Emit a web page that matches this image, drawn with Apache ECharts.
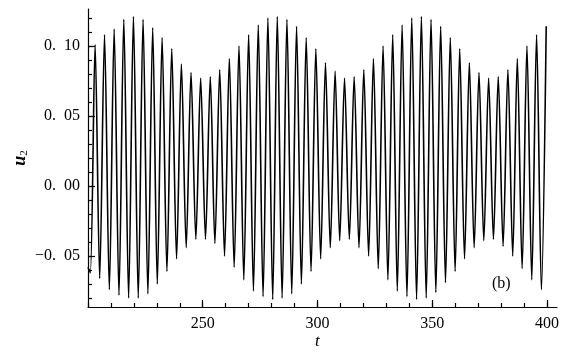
<!DOCTYPE html>
<html><head><meta charset="utf-8">
<script src="https://cdn.jsdelivr.net/npm/echarts@6/dist/echarts.min.js"></script>
<style>html,body{margin:0;padding:0;background:#fff}#c{width:574px;height:356px}</style>
</head><body><div id="c"></div>
<script>
// start point
const startT = [200.0];
const startU = [-0.058];
// local maxima of u2 (times, values)
const peakT = [203.1,207.2,211.4,215.6,219.8,224.0,228.2,232.3,236.5,240.7,244.9,249.1,253.3,257.4,261.6,265.8,
  270.0,274.2,278.4,282.5,286.7,290.9,295.1,299.3,303.5,307.7,311.8,316.0,320.2,324.4,328.6,332.8,
  336.9,341.1,345.3,349.5,353.7,357.9,362.0,366.2,370.4,374.6,378.8,383.0,387.1,391.3,395.5,399.7];
const peakU = [0.101,0.108,0.112,0.119,0.121,0.119,0.113,0.106,0.098,0.087,0.081,0.077,0.078,0.083,0.091,0.100,
  0.108,0.115,0.120,0.121,0.119,0.114,0.106,0.098,0.088,0.082,0.077,0.078,0.083,0.091,0.100,0.108,
  0.115,0.120,0.121,0.119,0.114,0.106,0.098,0.088,0.081,0.077,0.078,0.083,0.091,0.100,0.108,0.114];
// local minima
const troughT = [201.0,205.1,209.3,213.5,217.7,221.9,226.1,230.2,234.4,238.6,242.8,247.0,251.2,255.3,259.5,263.7,267.9,
  272.1,276.3,280.5,284.6,288.8,293.0,297.2,301.4,305.6,309.7,313.9,318.1,322.3,326.5,330.7,334.8,
  339.0,343.2,347.4,351.6,355.8,360.0,364.1,368.3,372.5,376.7,380.9,385.1,389.2,393.4,397.6];
const troughU = [-0.062,-0.066,-0.074,-0.078,-0.080,-0.080,-0.077,-0.070,-0.061,-0.052,-0.044,-0.038,-0.038,-0.041,-0.050,-0.058,-0.067,
  -0.075,-0.079,-0.081,-0.080,-0.077,-0.070,-0.061,-0.052,-0.044,-0.039,-0.038,-0.044,-0.050,-0.059,-0.067,-0.075,-0.079,
  -0.081,-0.080,-0.076,-0.069,-0.061,-0.052,-0.044,-0.039,-0.038,-0.043,-0.050,-0.059,-0.067,-0.074];
// axes
const xMin = 200, xMax = 404.4, yMin = -0.0864, yMax = 0.1264;
const xTickMin = 200, xTickMax = 400, xTickStep = 10;
const xLabelMin = 250, xLabelMax = 400, xLabelStep = 50;
const yTickMin = -0.08, yTickMax = 0.12, yTickStep = 0.01;
const yLabelMin = -0.05, yLabelMax = 0.10, yLabelStep = 0.05;

let pts = [];
startT.forEach((t,i)=>pts.push([t,startU[i]]));
peakT.forEach((t,i)=>pts.push([t,peakU[i]]));
troughT.forEach((t,i)=>pts.push([t,troughU[i]]));
pts.sort((a,b)=>a[0]-b[0]);

const W = 574, H = 356;
const G = {left: 88, right: 17, top: 9, bottom: 49};
const gw = W - G.left - G.right, gh = H - G.top - G.bottom;
const px = v => G.left + (v - xMin) / (xMax - xMin) * gw;
const py = v => G.top + (yMax - v) / (yMax - yMin) * gh;

const FONT = '"Liberation Serif","DejaVu Serif",serif';
const hiddenX = {type:'value', show:false};
const hiddenY = {type:'value', show:false};
function fmtY(v){
  const s = Math.abs(v).toFixed(2).replace('.', '.\u2002');
  return (v < -1e-9 ? '\u2212' : '') + s;
}
const gridBase = {outerBoundsMode:'none', containLabel:false};

const chart = echarts.init(document.getElementById('c'), null, {renderer:'canvas'});
chart.setOption({
  animation:false,
  backgroundColor:'#fff',
  grid:[
    Object.assign({left:G.left, right:G.right, top:G.top, bottom:G.bottom}, gridBase),
    Object.assign({left:G.left, width:px(xTickMax)-G.left, top:G.top, bottom:G.bottom}, gridBase),
    Object.assign({left:px(xLabelMin), width:px(xLabelMax)-px(xLabelMin), top:G.top, bottom:G.bottom}, gridBase),
    Object.assign({left:G.left, right:G.right, top:py(yTickMax), height:py(yTickMin)-py(yTickMax)}, gridBase),
    Object.assign({left:G.left, right:G.right, top:py(yLabelMax), height:py(yLabelMin)-py(yLabelMax)}, gridBase)
  ],
  xAxis:[
    {gridIndex:0, type:'value', min:xMin, max:xMax, axisLine:{onZero:false, lineStyle:{color:'#000', width:1.2}},
      axisTick:{show:false}, axisLabel:{show:false}, splitLine:{show:false}},
    {gridIndex:1, type:'value', min:xTickMin, max:xTickMax, interval:xTickStep,
      axisLine:{show:false, onZero:false}, axisTick:{inside:true, length:4, lineStyle:{color:'#000', width:1.2}},
      axisLabel:{show:false}, splitLine:{show:false}},
    {gridIndex:2, type:'value', min:xLabelMin, max:xLabelMax, interval:xLabelStep,
      axisLine:{show:false, onZero:false}, axisTick:{inside:true, length:7, lineStyle:{color:'#000', width:1.2}},
      axisLabel:{margin:9, fontFamily:FONT, fontSize:16, color:'#000'}, splitLine:{show:false}},
    Object.assign({gridIndex:3}, hiddenX),
    Object.assign({gridIndex:4}, hiddenX)
  ],
  yAxis:[
    {gridIndex:0, type:'value', min:yMin, max:yMax, axisLine:{onZero:false, lineStyle:{color:'#000', width:1.2}},
      axisTick:{show:false}, axisLabel:{show:false}, splitLine:{show:false}},
    Object.assign({gridIndex:1}, hiddenY),
    Object.assign({gridIndex:2}, hiddenY),
    {gridIndex:3, type:'value', min:yTickMin, max:yTickMax, interval:yTickStep,
      axisLine:{show:false, onZero:false}, axisTick:{inside:true, length:4, lineStyle:{color:'#000', width:1.2}},
      axisLabel:{show:false}, splitLine:{show:false}},
    {gridIndex:4, type:'value', min:yLabelMin, max:yLabelMax, interval:yLabelStep,
      axisLine:{show:false, onZero:false}, axisTick:{inside:true, length:7, lineStyle:{color:'#000', width:1.2}},
      axisLabel:{margin:8, fontFamily:FONT, fontSize:16, color:'#000', formatter:fmtY}, splitLine:{show:false}}
  ],
  series:[{
    type:'line', xAxisIndex:0, yAxisIndex:0, data:pts, showSymbol:false, smooth:0.3,
    lineStyle:{color:'#000', width:1.6}, clip:true
  }],
  graphic:[
    {type:'text', left:492, top:276, style:{text:'(b)', font:'16px "Liberation Serif", serif', fill:'#000'}},
    {type:'text', x:px(300), y:H-14, style:{text:'t', font:'italic 17px "Liberation Serif", serif', fill:'#000', align:'center', verticalAlign:'middle'}},
    {type:'text', x:20, y:py(0.02), rotation:Math.PI/2,
      style:{text:'{u|u}{s|2}', align:'center', verticalAlign:'middle',
        rich:{u:{font:'italic bold 18px "Liberation Serif", serif', fill:'#000'},
              s:{font:'11px "Liberation Serif", serif', fill:'#000', padding:[8,0,0,0]}}}}
  ]
});
</script></body></html>
